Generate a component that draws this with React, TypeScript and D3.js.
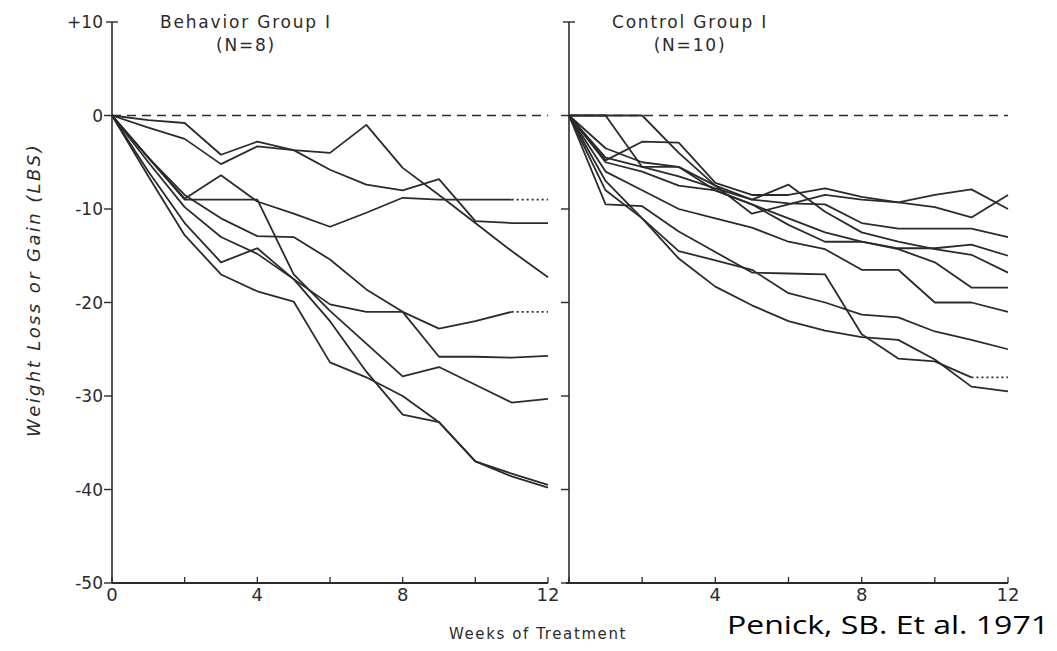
import React from "react";
import * as d3 from "d3";

const weeks = [0, 1, 2, 3, 4, 5, 6, 7, 8, 9, 10, 11, 12];
const yTicks = [10, 0, -10, -20, -30, -40, -50];
const yTickLabels = ["+10", "0", "-10", "-20", "-30", "-40", "-50"];
const xMinorTicks = [0, 2, 4, 6, 8, 10, 12];
const xLabelTicksLeft = [0, 4, 8, 12];
const xLabelTicksRight = [4, 8, 12];

// Behavior Group I (N=8)
const behavior1 = [0, -0.5, -0.8, -4.2, -2.8, -3.7, -4, -1, -5.6, -8.5, -11.5, -14.5, -17.3];
const behavior2 = [0, -1.3, -2.5, -5.2, -3.3, -3.7, -5.8, -7.4, -8, -6.8, -11.3, -11.5, -11.5];
const behavior3 = [0, -4.5, -8.9, -6.4, -9.2, -10.5, -11.9, -10.4, -8.8, -9, -9, -9, -9];
const behavior4 = [0, -4.5, -9, -9, -9, -17, -20.9, -24.4, -27.9, -26.9, -28.8, -30.7, -30.3];
const behavior5 = [0, -4.5, -8.5, -11, -12.9, -13, -15.4, -18.6, -21, -22.8, -22, -21, -21];
const behavior6 = [0, -5, -9.8, -13, -14.8, -17.5, -20.2, -21, -21, -25.8, -25.8, -25.9, -25.7];
const behavior7 = [0, -6.5, -12.8, -17, -18.8, -19.9, -26.4, -28, -30, -32.8, -37, -38.3, -39.5];
const behavior8 = [0, -6, -11.5, -15.7, -14.2, -17.5, -22, -27.4, -32, -32.8, -37, -38.6, -39.8];

// Control Group I (N=10)
const control1 = [0, -4.5, -5.5, -5.5, -7.5, -10.5, -9.5, -8.5, -9, -9.3, -9.8, -10.9, -8.5];
const control2 = [0, -4.8, -2.8, -2.9, -7.2, -8.5, -8.5, -7.8, -8.7, -9.3, -8.5, -7.9, -10];
const control3 = [0, 0, -5.5, -6.5, -7.8, -9, -9.4, -9.5, -11.5, -12.1, -12.1, -12.1, -13];
const control4 = [0, -3.5, -5, -5.5, -8, -9.5, -11, -12.5, -13.5, -14.2, -14.2, -13.8, -15];
const control5 = [0, 0, 0, -4, -7.5, -9, -7.4, -10.3, -12.5, -13.5, -14.3, -14.9, -16.8];
const control6 = [0, -5, -6, -7.5, -8, -9.5, -11.7, -13.5, -13.5, -14.3, -15.7, -18.4, -18.4];
const control7 = [0, -6, -8, -10, -11, -12, -13.5, -14.3, -16.5, -16.5, -20, -20, -21];
const control8 = [0, -7, -11, -14.5, -15.5, -16.5, -19, -20, -21.3, -21.6, -23.1, -24, -25];
const control9 = [0, -9.5, -9.7, -12.4, -14.6, -16.8, -16.9, -17, -23.4, -26, -26.3, -28, -28];
const control10 = [0, -8, -11, -15.3, -18.3, -20.3, -22, -23, -23.7, -24, -26.1, -29, -29.5];

const behaviorSeries = [behavior1, behavior2, behavior3, behavior4, behavior5, behavior6, behavior7, behavior8];
const behaviorDotted = [false, false, true, false, true, false, false, false];
const controlSeries = [control1, control2, control3, control4, control5, control6, control7, control8, control9, control10];
const controlDotted = [false, false, false, false, false, false, false, false, true, false];

const INK = "#2b2b2b";
const FONT = "'DejaVu Sans', sans-serif";

const y = d3.scaleLinear().domain([-50, 10]).range([583, 22]);
const xLeft = d3.scaleLinear().domain([0, 12]).range([112, 548]);
const xRight = d3.scaleLinear().domain([0, 12]).range([569, 1008]);

function Panel({ x, series, dotted, showZeroLabel, axisStart }: any) {
  const line = d3
    .line<number>()
    .x((_, i) => x(weeks[i]))
    .y((v) => y(v));
  const x0 = x(0);
  return (
    <g>
      <line x1={x0} x2={x0} y1={y(10)} y2={y(-50)} stroke={INK} strokeWidth={1.6} />
      {yTicks.map((t) =>
        t === 10 ? (
          <line key={t} x1={x0 - 6} x2={x0 + 6} y1={y(t)} y2={y(t)} stroke={INK} strokeWidth={1.4} />
        ) : (
          <line key={t} x1={x0 - 8} x2={x0} y1={y(t)} y2={y(t)} stroke={INK} strokeWidth={1.4} />
        )
      )}
      <line x1={axisStart} x2={x(12)} y1={y(-50)} y2={y(-50)} stroke={INK} strokeWidth={1.8} />
      {xMinorTicks.map((t) => (
        <line key={t} x1={x(t)} x2={x(t)} y1={y(-50)} y2={y(-50) - 6} stroke={INK} strokeWidth={1.3} />
      ))}
      {(showZeroLabel ? xLabelTicksLeft : xLabelTicksRight).map((t) => (
        <text key={t} x={x(t)} y={y(-50) + 18} textAnchor="middle" fontFamily={FONT} fontSize={18} fill={INK}>
          {t}
        </text>
      ))}
      <line x1={x(0)} x2={x(12)} y1={y(0)} y2={y(0)} stroke={INK} strokeWidth={1.6} strokeDasharray="9 6" />
      {series.map((s: number[], i: number) => {
        const isDot = dotted[i];
        const solid = isDot ? s.slice(0, 12) : s;
        return (
          <g key={i}>
            <path d={line(solid) || ""} fill="none" stroke={INK} strokeWidth={1.8} strokeLinejoin="round" />
            {isDot && (
              <line
                x1={x(11)}
                x2={x(12)}
                y1={y(s[11])}
                y2={y(s[12])}
                stroke={INK}
                strokeWidth={1.8}
                strokeDasharray="2 3"
              />
            )}
          </g>
        );
      })}
    </g>
  );
}

export default function App() {
  return (
    <svg width={1057} height={651} style={{ position: "absolute", left: 0, top: 0, background: "#fff" }}>
      <rect width={1057} height={651} fill="#fff" />
      {yTicks.map((t, i) => (
        <text key={t} x={103} y={y(t) + 6} textAnchor="end" fontFamily={FONT} fontSize={17} fill={INK}>
          {yTickLabels[i]}
        </text>
      ))}
      <text
        transform="translate(40,290) rotate(-90)"
        textAnchor="middle"
        fontFamily={FONT}
        fontStyle="italic"
        fontSize={18}
        letterSpacing={2.4}
        fill={INK}
      >
        Weight Loss or Gain (LBS)
      </text>
      <Panel x={xLeft} series={behaviorSeries} dotted={behaviorDotted} showZeroLabel={true} axisStart={xLeft(0)} />
      <Panel x={xRight} series={controlSeries} dotted={controlDotted} showZeroLabel={false} axisStart={566} />
      <text x={246} y={28} textAnchor="middle" fontFamily={FONT} fontSize={17} letterSpacing={1.8} fill={INK}>
        Behavior Group I
      </text>
      <text x={246} y={51} textAnchor="middle" fontFamily={FONT} fontSize={17} letterSpacing={1.8} fill={INK}>
        (N=8)
      </text>
      <text x={690} y={28} textAnchor="middle" fontFamily={FONT} fontSize={17} letterSpacing={1.8} fill={INK}>
        Control Group I
      </text>
      <text x={690} y={51} textAnchor="middle" fontFamily={FONT} fontSize={17} letterSpacing={1.8} fill={INK}>
        (N=10)
      </text>
      <text x={538} y={639} textAnchor="middle" fontFamily={FONT} fontSize={15} letterSpacing={1.6} fill={INK}>
        Weeks of Treatment
      </text>
      <text
        x={727}
        y={634}
        fontFamily="'Open Sans', sans-serif"
        fontSize={26}
        fill="#000"
        textLength={322}
        lengthAdjust="spacingAndGlyphs"
      >
        Penick, SB. Et al. 1971
      </text>
    </svg>
  );
}
